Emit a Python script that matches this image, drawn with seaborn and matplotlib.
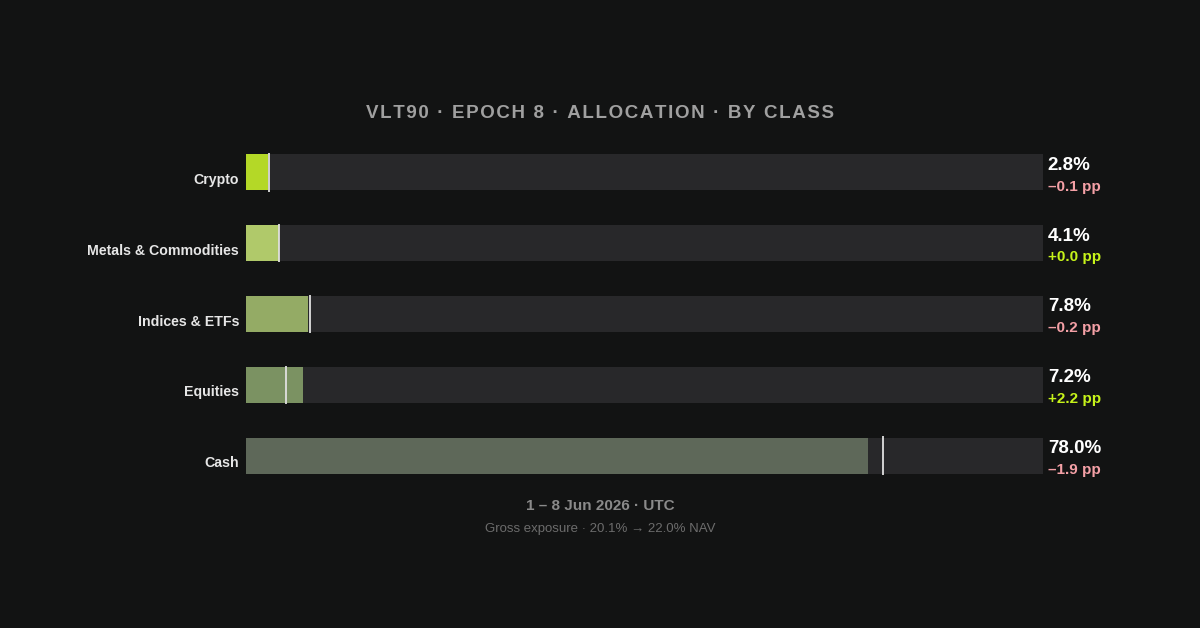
import matplotlib
matplotlib.use("Agg")
import matplotlib.pyplot as plt
import matplotlib.transforms as mtransforms
import seaborn as sns
import pandas as pd

categories = ["Crypto", "Metals & Commodities", "Indices & ETFs", "Equities", "Cash"]
current = [2.8, 4.1, 7.8, 7.2, 78.0]
previous = [2.9, 4.1, 8.0, 5.0, 79.9]
deltas = ["\u20130.1 pp", "+0.0 pp", "\u20130.2 pp", "+2.2 pp", "\u20131.9 pp"]
delta_pos = [False, True, False, True, False]
colors = ["#c6f50a", "#b8d95a", "#98b65a", "#7b9a5a", "#5d6b56"]

sns.set_theme(style="white")
plt.rcParams["font.family"] = ["Liberation Sans", "DejaVu Sans"]

fig = plt.figure(figsize=(12, 6.28), dpi=100)
fig.patch.set_facecolor("#121313")
ax = fig.add_axes([246/1200, 1-491/628, (1043-246)/1200, (491-137)/628])
ax.set_facecolor("none")

df = pd.DataFrame({"cat": categories, "track": [100]*5, "cur": current})
sns.barplot(data=df, y="cat", x="track", color="#28282a", width=0.51, ax=ax, orient="h")
sns.barplot(data=df, y="cat", x="cur", hue="cat", palette=colors, width=0.51, ax=ax, orient="h", legend=False)
for p in ax.patches:
    p.set_linewidth(0)
ax.set_xlim(0, 100)
ax.set_ylim(4.5, -0.5)
for i, (pv, c, d, pos) in enumerate(zip(previous, current, deltas, delta_pos)):
    ax.plot([pv, pv], [i-0.27, i+0.27], color="#e0e0e0", lw=1.3, solid_capstyle="butt")
    ax.text(100.6, i-0.1, f"{c:.1f}%", color="white", fontsize=13.5, fontweight="bold", va="center", ha="left")
    ax.text(100.6, i+0.2, d, color="#c6f31a" if pos else "#f4a0a6", fontsize=11, fontweight="bold", va="center", ha="left")
ax.set_xlabel(""); ax.set_ylabel("")
ax.set_xticks([])
ax.tick_params(axis="y", length=0, pad=5, labelsize=10.2, labelcolor="#e6e6e6")
off = mtransforms.ScaledTranslation(0, -6/100, fig.dpi_scale_trans)
for t in ax.get_yticklabels():
    t.set_fontweight("bold")
    t.set_transform(t.get_transform() + off)
sns.despine(ax=ax, left=True, bottom=True)

title = "VLT90 \u00b7 EPOCH 8 \u00b7 ALLOCATION \u00b7 BY CLASS"
fig.text(0.5, 1-113/628, "\u200a".join(title), color="#a0a0a0",
         fontsize=13.5, fontweight="bold", ha="center", va="center")
fig.text(0.5, 1-506/628, "1 \u2013 8 Jun 2026 \u00b7 UTC", color="#8a8a8a", fontsize=11, fontweight="bold", ha="center", va="center")
fig.text(0.5, 1-529/628, "Gross exposure \u00b7 20.1% \u2192 22.0% NAV", color="#6c6c6c", fontsize=9.5, ha="center", va="center")
fig.savefig("out.png", dpi=100, facecolor=fig.get_facecolor())
